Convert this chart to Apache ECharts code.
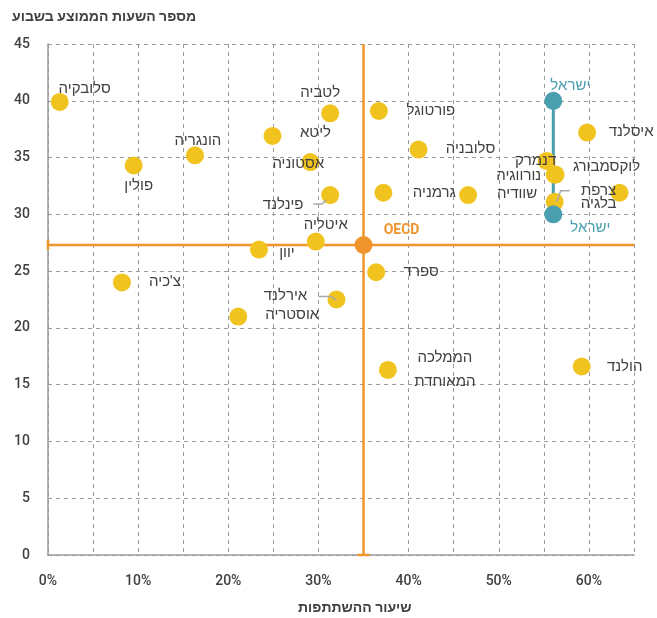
<!DOCTYPE html>
<html>
<head>
<meta charset="utf-8">
<script src="https://cdn.jsdelivr.net/npm/echarts@6/dist/echarts.min.js"></script>
<style>
  html, body { margin: 0; padding: 0; background: #ffffff; }
  #chart { width: 657px; height: 618px; }
</style>
</head>
<body>
<div id="chart"></div>
<script>
// Participation rate (%) vs. average weekly hours, by country
const countries = [
  'סלובקיה', 'פולין', 'הונגריה', 'ליטא', 'אסטוניה', 'לטביה', 'פורטוגל', 'סלובניה',
  'איסלנד', 'דנמרק', 'נורווגיה', 'לוקסמבורג', 'שוודיה', 'צרפת', 'בלגיה', 'גרמניה',
  'פינלנד', 'איטליה', 'יוון', 'ספרד', 'אירלנד', 'אוסטריה', 'צ\'כיה', 'הממלכה\nהמאוחדת', 'הולנד'
];
const participation = [
  1.3, 9.5, 16.3, 24.9, 29.1, 31.3, 36.7, 41.1,
  59.8, 55.3, 56.2, 56.3, 46.6, 63.4, 56.2, 37.2,
  31.3, 29.7, 23.4, 36.4, 32.0, 21.1, 8.2, 37.7, 59.2
];
const hours = [
  39.9, 34.3, 35.2, 36.9, 34.6, 38.9, 39.1, 35.7,
  37.2, 34.7, 33.5, 33.5, 31.7, 31.9, 31.1, 31.9,
  31.7, 27.6, 26.9, 24.9, 22.5, 21.0, 24.0, 16.3, 16.6
];

const israelName = 'ישראל';
const israelParticipation = [56.05, 56.05];
const israelHours = [40.0, 30.0];

const oecdName = 'OECD';
const oecdParticipation = 35.0;
const oecdHours = 27.3;

const xTickLabels = ['0%', '10%', '20%', '30%', '40%', '50%', '60%'];
const yTickLabels = ['0', '5', '10', '15', '20', '25', '30', '35', '40', '45'];

const xAxisTitle = 'שיעור ההשתתפות';
const yAxisTitle = 'מספר השעות הממוצע בשבוע';

// Axis ranges
const X_MIN = 0, X_MAX = 65, Y_MIN = 0, Y_MAX = 45;

// Label placement (pixel offset of label centre from the dot centre)
const labelOffsets = {
  'סלובקיה': [25, -13], 'פולין': [5, 21], 'הונגריה': [3, -14], 'ליטא': [43, -3],
  'אסטוניה': [-12, 2], 'לטביה': [-10, -20], 'פורטוגל': [52, 0], 'סלובניה': [52, 0],
  'איסלנד': [44, 0], 'דנמרק': [-11, 0], 'נורווגיה': [-36, 2], 'לוקסמבורג': [51, -7],
  'שוודיה': [49, -1], 'צרפת': [-21, -2], 'בלגיה': [44, 2], 'גרמניה': [51, 0],
  'פינלנד': [-47, 10], 'איטליה': [10, -16], 'יוון': [28, 4], 'ספרד': [45, 0],
  'אירלנד': [-51, -3], 'אוסטריה': [54, -1], 'צ\'כיה': [43, 0], 'הממלכה\nהמאוחדת': [57, 0],
  'הולנד': [43, 1]
};

// Leader lines (pixel polylines relative to the dot centre)
const leaders = {
  'פינלנד': [[-17, 9], [-8, 9], [-4, 5]],
  'אירלנד': [[-18, -3], [-5, -3], [0, 1]],
  'בלגיה': [[15, -11], [6, -11], [2, 0]]
};

const FONT = 'Roboto, "Liberation Sans", "DejaVu Sans", sans-serif';
const TEXT = '#404040';
const YELLOW = '#F0C31F';
const TEAL = '#4A9FAE';
const ORANGE = '#F0952B';

const countryData = countries.map((name, i) => ({
  name: name,
  value: [participation[i], hours[i]],
  label: { offset: labelOffsets[name] || [0, 0] }
}));

const leaderData = countries
  .map((name, i) => ({ name, value: [participation[i], hours[i]] }))
  .filter(d => leaders[d.name]);

const chart = echarts.init(document.getElementById('chart'), null, { renderer: 'canvas' });

chart.setOption({
  animation: false,
  backgroundColor: '#ffffff',
  textStyle: { fontFamily: FONT },
  grid: { left: 48, right: 23, top: 44, bottom: 63, containLabel: false },
  xAxis: {
    type: 'value', min: X_MIN, max: X_MAX, interval: 5,
    axisLine: { show: true, lineStyle: { color: '#9a9a9a', width: 1.5 } },
    axisTick: { show: false },
    axisLabel: {
      margin: 19, color: TEXT, fontSize: 14, fontWeight: 500, fontFamily: FONT,
      formatter: v => xTickLabels.includes(v + '%') ? v + '%' : ''
    },
    splitLine: { show: true, lineStyle: { color: '#9a9a9a', type: [4, 4], width: 1 } }
  },
  yAxis: {
    type: 'value', min: Y_MIN, max: Y_MAX, interval: 5,
    axisLine: { show: true, lineStyle: { color: '#9a9a9a', width: 1.5 } },
    axisTick: { show: false },
    axisLabel: {
      margin: 18, color: TEXT, fontSize: 14, fontWeight: 500, fontFamily: FONT,
      formatter: v => yTickLabels.includes(String(v)) ? String(v) : ''
    },
    splitLine: { show: true, lineStyle: { color: '#9a9a9a', type: [4, 4], width: 1 } }
  },
  graphic: [
    {
      type: 'text', left: 12, top: 10,
      style: { text: yAxisTitle, fill: TEXT, font: 'bold 14px ' + FONT }
    },
    {
      type: 'text', left: 298, top: 601,
      style: { text: xAxisTitle, fill: TEXT, font: 'bold 14px ' + FONT }
    }
  ],
  series: [
    // OECD average cross-hair
    {
      type: 'custom', z: 1, silent: true,
      data: [[oecdParticipation, oecdHours]],
      renderItem: (params, api) => {
        const x = api.value(0), y = api.value(1);
        const bottom = api.coord([x, Y_MIN]), top = api.coord([x, Y_MAX]);
        const left = api.coord([X_MIN, y]), right = api.coord([X_MAX, y]);
        const st = { stroke: ORANGE, lineWidth: 2.5 };
        return {
          type: 'group',
          children: [
            { type: 'line', shape: { x1: bottom[0], y1: bottom[1], x2: top[0], y2: top[1] }, style: st },
            { type: 'line', shape: { x1: left[0], y1: left[1], x2: right[0], y2: right[1] }, style: st },
            { type: 'line', shape: { x1: bottom[0] - 6, y1: bottom[1], x2: bottom[0] + 6, y2: bottom[1] }, style: st },
            { type: 'line', shape: { x1: left[0], y1: left[1] - 5, x2: left[0], y2: left[1] + 5 }, style: st }
          ]
        };
      }
    },
    // Israel range line
    {
      type: 'line', z: 1, silent: true, showSymbol: false,
      data: israelParticipation.map((x, i) => [x, israelHours[i]]),
      lineStyle: { color: TEAL, width: 3 }
    },
    // Countries
    {
      type: 'scatter', z: 2, symbolSize: 18,
      itemStyle: { color: YELLOW, opacity: 1 },
      label: {
        show: true, position: 'inside', formatter: '{b}',
        color: TEXT, fontSize: 15, fontFamily: FONT, lineHeight: 24
      },
      data: countryData
    },
    // Israel points
    {
      type: 'scatter', z: 3, symbolSize: 18,
      itemStyle: { color: TEAL, opacity: 1 },
      label: {
        show: true, position: 'inside', formatter: '{b}',
        color: TEAL, fontSize: 15, fontFamily: FONT
      },
      data: [
        { name: israelName, value: [israelParticipation[0], israelHours[0]], label: { offset: [17, -15] } },
        { name: israelName, value: [israelParticipation[1], israelHours[1]], label: { offset: [37, 14] } }
      ]
    },
    // OECD point
    {
      type: 'scatter', z: 3, symbolSize: 18,
      itemStyle: { color: ORANGE, opacity: 1 },
      label: {
        show: true, position: 'inside', formatter: '{b}', offset: [38, -14],
        color: ORANGE, fontSize: 14, fontWeight: 'bold', fontFamily: FONT
      },
      data: [{ name: oecdName, value: [oecdParticipation, oecdHours] }]
    },
    // Leader lines for crowded labels
    {
      type: 'custom', z: 4, silent: true,
      data: leaderData,
      renderItem: (params, api) => {
        const name = leaderData[params.dataIndex].name;
        const c = api.coord([api.value(0), api.value(1)]);
        const pts = leaders[name].map(p => [c[0] + p[0], c[1] + p[1]]);
        return {
          type: 'polyline',
          shape: { points: pts },
          style: { stroke: '#a8a8a8', lineWidth: 1.5, fill: null }
        };
      }
    }
  ]
});
</script>
</body>
</html>
